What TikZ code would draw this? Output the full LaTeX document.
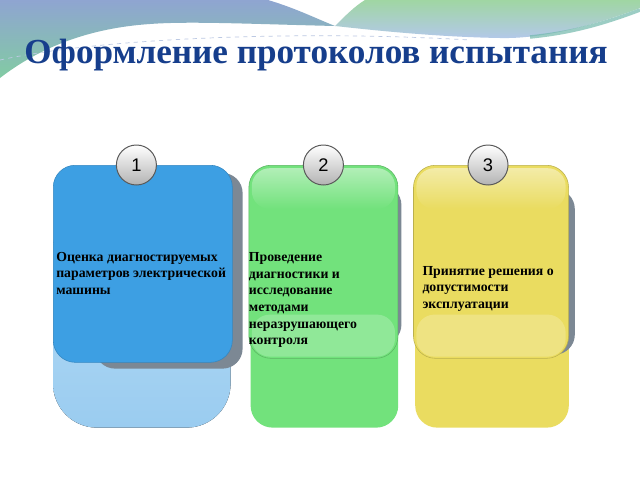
\documentclass[tikz,border=0pt]{standalone}
\usepackage{xcolor}
\usepackage{fontspec}
\setmainfont{Liberation Serif}
\newfontfamily\digitfont{Liberation Sans}
\usetikzlibrary{positioning,backgrounds,fadings}

\definecolor{titleblue}{HTML}{163E8C}
\definecolor{bandblue}{HTML}{8FA5D1}
\definecolor{bandgreen}{HTML}{82CBA3}
\definecolor{bandlightgreen}{HTML}{A0D6A3}
\definecolor{bandlightblue}{HTML}{B3C8EA}
\definecolor{bandteal}{HTML}{72B9AC}
\definecolor{blueface}{HTML}{3D9FE3}
\definecolor{bluebacktop}{HTML}{BADEF6}
\definecolor{bluebackbot}{HTML}{9ACCF0}
\definecolor{greenface}{HTML}{72E27C}
\definecolor{yellowface}{HTML}{EADC60}
\definecolor{shadowgray}{HTML}{7C8894}

\begin{document}
\begin{tikzpicture}[x=0.025cm, y=-0.025cm,
    face/.style = {draw, line width=0.4pt, rounded corners=0.55cm,
                   anchor=north west, inner sep=0pt},
    gloss/.style = {fill=white, fill opacity=0.45, rounded corners=0.45cm},
    lowgloss/.style = {fill=white, fill opacity=0.22, rounded corners=0.45cm},
    dropshade/.style = {fill=shadowgray, rounded corners=0.5cm},
    num/.style = {circle, minimum size=1cm, inner sep=0pt, draw=gray!70!black,
                  line width=0.7pt, top color=white, bottom color=gray!60,
                  font=\digitfont\fontsize{13}{15}\selectfont},
    txt/.style = {align=left, inner sep=0pt,
                  font=\bfseries\fontsize{9.8}{11.8}\selectfont},
  ]
    \useasboundingbox (0,0) rectangle (640,480);

    \node[face, fill=blueface, draw=blueface!85!black,
          minimum width=4.475cm, minimum height=4.925cm] (face1) at (53,165) {};
    \node[face, fill=greenface, draw=greenface!80!black,
          minimum width=3.725cm, minimum height=4.825cm,
          right=0.4cm of face1.north east, anchor=north west] (face2) {};
    \node[face, fill=yellowface, draw=yellowface!80!black,
          minimum width=3.875cm, minimum height=4.825cm,
          right=0.375cm of face2.north east, anchor=north west] (face3) {};

    \begin{pgfonlayer}{background}
      \fill[white] (0,0) rectangle (640,480);

      \shade[top color=bandblue, bottom color=bandgreen]
        (0,0) -- (268,0) .. controls (295,8) and (315,18) .. (335,26)
        .. controls (250,24) and (190,21) .. (150,24)
        .. controls (90,28) and (40,47) .. (0,78) -- cycle;
      \shade[top color=bandlightgreen, bottom color=bandlightblue]
        (365,0) -- (640,0) -- (640,8)
        .. controls (590,27) and (540,39) .. (500,38)
        .. controls (440,37) and (380,31) .. (335,26)
        .. controls (345,16) and (355,6) .. (365,0) -- cycle;
      \draw[bandteal, line width=2.5pt, opacity=0.7]
        (640,10) .. controls (600,25) and (570,33) .. (530,37);
      \draw[bandblue!60, dashed, line width=0.5pt]
        (0,60) .. controls (100,38) and (300,30) .. (470,40);

      \fill[top color=bluebacktop, bottom color=bluebackbot, rounded corners=1.1cm]
        ([yshift=-1cm]face1.north west) rectangle ([xshift=-0.05cm,yshift=-1.625cm]face1.south east);
      \fill[greenface, rounded corners=0.55cm]
        ([xshift=0.05cm,yshift=-1cm]face2.north west) rectangle ([yshift=-1.725cm]face2.south east);
      \fill[yellowface, rounded corners=0.55cm]
        ([xshift=0.05cm,yshift=-1cm]face3.north west) rectangle ([yshift=-1.725cm]face3.south east);

      \fill[dropshade]
        ([xshift=1.05cm,yshift=-0.2cm]face1.north west) rectangle ([xshift=0.25cm,yshift=-0.15cm]face1.south east);
      \fill[dropshade]
        ([yshift=-0.5cm]face2.north) rectangle ([xshift=0.08cm,yshift=0.35cm]face2.south east);
      \fill[dropshade]
        ([yshift=-0.6cm]face3.north) rectangle ([xshift=0.15cm,yshift=0.1cm]face3.south east);
    \end{pgfonlayer}

    \fill[gloss, path fading=south] ([shift={(0.08cm,-0.08cm)}]face2.north west) rectangle ([shift={(-0.08cm,-1.1cm)}]face2.north east);
    \fill[lowgloss] ([shift={(0.08cm,1.1cm)}]face2.south west) rectangle ([shift={(-0.08cm,0.05cm)}]face2.south east);
    \fill[gloss, path fading=south] ([shift={(0.08cm,-0.08cm)}]face3.north west) rectangle ([shift={(-0.08cm,-1.1cm)}]face3.north east);
    \fill[lowgloss] ([shift={(0.08cm,1.1cm)}]face3.south west) rectangle ([shift={(-0.08cm,0.05cm)}]face3.south east);

    \node[anchor=base, text=titleblue, font=\bfseries\fontsize{25}{30}\selectfont]
      (title) at (316,63) {Оформление протоколов испытания};

    \node[txt, right=0.075cm of face1.west, yshift=-0.24cm] (txt1)
      {Оценка диагностируемых\\параметров электрической\\машины};
    \node[txt, right=0cm of face2.west, yshift=-0.96cm] (txt2)
      {Проведение\\диагностики и\\исследование\\методами\\неразрушающего\\контроля};
    \node[txt, right=0.225cm of face3.west, yshift=-0.675cm] (txt3)
      {Принятие решения о\\допустимости\\эксплуатации};

    \node[num, xshift=-0.16cm] (num1) at (face1.north) {1};
    \node[num] (num2) at (face2.north) {2};
    \node[num, xshift=-0.075cm] (num3) at (face3.north) {3};
\end{tikzpicture}
\end{document}
